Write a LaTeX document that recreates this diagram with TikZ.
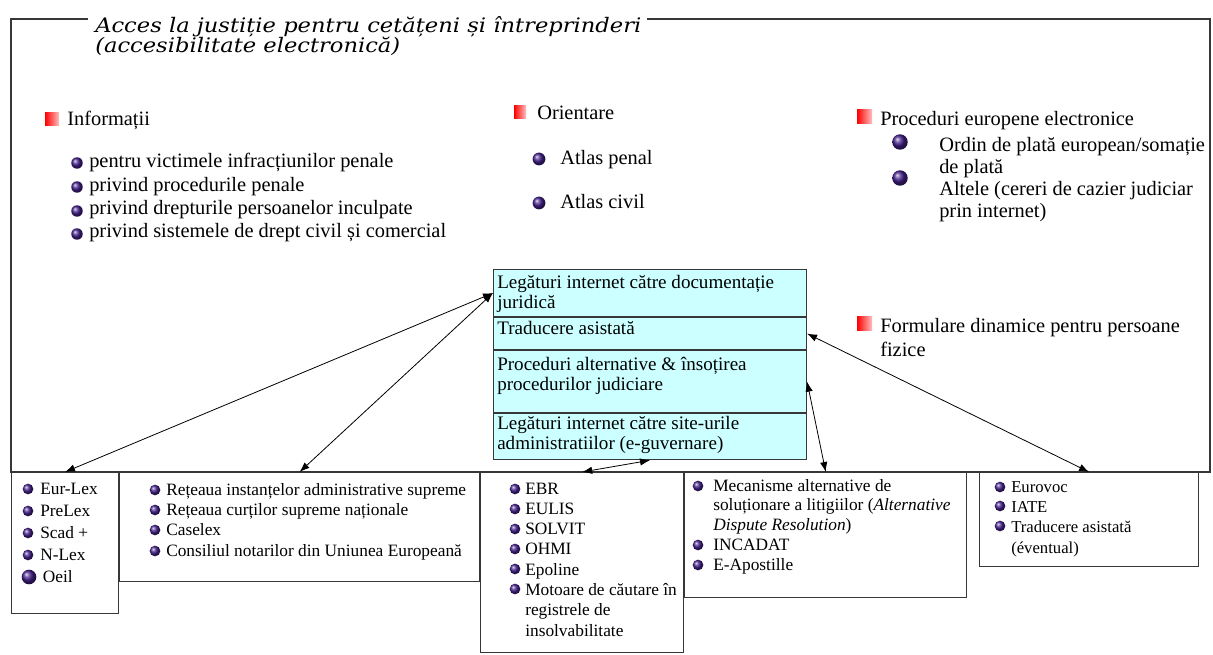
\documentclass[tikz,border=0pt]{standalone}
\usepackage{fontspec}
\setmainfont{Liberation Serif}
\newfontfamily\titlefont[FakeStretch=1.13]{DejaVu Serif}
\usetikzlibrary{arrows.meta}
\definecolor{cellcyan}{RGB}{204,255,255}
\definecolor{bulpurple}{RGB}{68,32,140}
\definecolor{framegray}{RGB}{55,55,55}
\tikzset{
  cell/.style={draw=framegray, fill=cellcyan, line width=0.8pt, anchor=north west, minimum width=234.75pt, inner sep=0pt},
  lbox/.style={draw=framegray, fill=white, line width=0.8pt, anchor=north west, inner sep=0pt},
  txt/.style={anchor=base west, inner sep=0pt, align=left, font=\fontsize{15.3}{17.6}\selectfont},
  celltxt/.style={anchor=base west, inner sep=0pt, align=left, font=\fontsize{14.3}{15.5}\selectfont},
  small/.style={anchor=base west, inner sep=0pt, align=left, font=\fontsize{13}{15.2}\selectfont},
  link/.style={{Latex[length=7.5pt,width=5.5pt]}-{Latex[length=7.5pt,width=5.5pt]}, line width=0.6pt},
  ball/.style={ball color=bulpurple},
  redsq/.style={left color=red, right color=red!25},
}
\begin{document}
\begin{tikzpicture}[x=0.75pt, y=-0.75pt]
\useasboundingbox (0,0) rectangle (1213,655);
\draw[framegray, line width=0.8pt] (88,19) -- (11,19) -- (11,472) -- (1210,472) -- (1210,19) -- (647,19);
\node[anchor=base west, inner sep=0pt, align=left, font=\titlefont\itshape\fontsize{15}{15}\selectfont] (title) at (95,53) {Acces la justiție pentru cetățeni și întreprinderi\\(accesibilitate electronică)};

\shade[redsq] (45,113) rectangle (59,126);
\node[txt] (infohead) at (67,126) {Informații};
\shade[ball] (77,163) circle (4.3pt);
\shade[ball] (77,187) circle (4.3pt);
\shade[ball] (77,211) circle (4.3pt);
\shade[ball] (77,234) circle (4.3pt);
\node[txt] (infolist) at (89,238) {pentru victimele infracțiunilor penale\\privind procedurile penale\\privind drepturile persoanelor inculpate\\privind sistemele de drept civil și comercial};

\shade[redsq] (514,106) rectangle (526,119);
\node[txt] (orienthead) at (537,120) {Orientare};
\shade[ball] (539,159) circle (4.8pt);
\shade[ball] (539,203) circle (4.8pt);
\node[txt] (atlaspen) at (560,165) {Atlas penal};
\node[txt] (atlasciv) at (560,209) {Atlas civil};

\shade[redsq] (857,110) rectangle (872,124);
\node[txt] (prochead) at (880,126) {Proceduri europene electronice};
\shade[ball] (900,142) circle (5.8pt);
\shade[ball] (900,178) circle (5.8pt);
\node[txt, font=\fontsize{15.3}{16.5}\selectfont] (proclist) at (939,218) {Ordin de plată european/somație\\de plată\\Altele (cereri de cazier judiciar\\prin internet)};

\shade[redsq] (857,317) rectangle (872,331);
\node[txt, font=\fontsize{15.3}{18}\selectfont] (formhead) at (880,357) {Formulare dinamice pentru persoane\\fizice};

\node[cell, minimum height=35.25pt] (legal) at (493,269) {};
\node[cell, minimum height=24pt] (trad) at (legal.south west) {};
\node[cell, minimum height=46.5pt] (alt) at (trad.south west) {};
\node[cell, minimum height=34.5pt] (egov) at (alt.south west) {};
\node[celltxt] (legaltxt) at (497,309) {Legături internet către documentație\\juridică};
\node[celltxt] (tradtxt) at (497,335) {Traducere asistată};
\node[celltxt] (alttxt) at (497,391) {Proceduri alternative \& însoțirea\\procedurilor judiciare};
\node[celltxt] (egovtxt) at (497,450) {Legături internet către site-urile\\administratiilor (e-guvernare)};

\node[lbox, minimum width=80.25pt, minimum height=105.75pt] (eurlex) at (11,472) {};
\node[lbox, minimum width=270pt, minimum height=81.75pt] (retele) at (eurlex.north east) {};
\node[lbox, minimum width=152.25pt, minimum height=135pt] (ebr) at (retele.north east) {};
\node[lbox, minimum width=211.5pt, minimum height=93.75pt] (adr) at (ebr.north east) {};
\node[lbox, minimum width=164.25pt, minimum height=70.5pt] (eurovoc) at (979,472) {};

\shade[ball] (28,489) circle (4pt);
\shade[ball] (28,511) circle (4pt);
\shade[ball] (28,533) circle (4pt);
\shade[ball] (28,555) circle (4pt);
\shade[ball] (29,577) circle (5.5pt);
\node[small, font=\fontsize{13}{16.5}\selectfont] (eurlexlist) at (40,582) {Eur-Lex\\PreLex\\Scad +\\N-Lex\\\hspace{2pt}Oeil};

\shade[ball] (155,490) circle (4pt);
\shade[ball] (155,510) circle (4pt);
\shade[ball] (155,530) circle (4pt);
\shade[ball] (155,551) circle (4pt);
\node[small] (retelelist) at (166,556) {Rețeaua instanțelor administrative supreme\\Rețeaua curților supreme naționale\\Caselex\\Consiliul notarilor din Uniunea Europeană};

\shade[ball] (515,489) circle (4pt);
\shade[ball] (515,509) circle (4pt);
\shade[ball] (515,529) circle (4pt);
\shade[ball] (515,549) circle (4pt);
\shade[ball] (515,569) circle (4pt);
\shade[ball] (515,589) circle (4pt);
\node[small] (ebrlist) at (525,636) {EBR\\EULIS\\SOLVIT\\OHMI\\Epoline\\Motoare de căutare în\\registrele de\\insolvabilitate};

\shade[ball] (698,486) circle (4pt);
\shade[ball] (698,545) circle (4pt);
\shade[ball] (698,565) circle (4pt);
\node[small, font=\fontsize{13}{14.8}\selectfont] (adrlist) at (713,570) {Mecanisme alternative de\\soluționare a litigiilor (\textit{Alternative}\\\textit{Dispute Resolution})\\INCADAT\\E-Apostille};

\shade[ball] (1000,487) circle (4pt);
\shade[ball] (1000,506) circle (4pt);
\shade[ball] (1000,526) circle (4pt);
\node[small, font=\fontsize{12.5}{15.2}\selectfont] (eurovoclist) at (1011,553) {Eurovoc\\IATE\\Traducere asistată\\(éventual)};

\draw[link] (legal.west) -- (eurlex.north);
\draw[link] (legal.west) -- (retele.north);
\draw[link] (egov.south) -- (ebr.north);
\draw[link] (alt.east) -- (adr.north);
\draw[link] (trad.east) -- (eurovoc.north);
\end{tikzpicture}
\end{document}
